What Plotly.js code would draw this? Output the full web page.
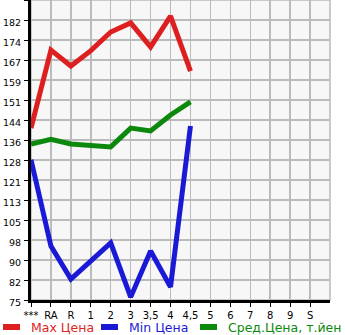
<!DOCTYPE html>
<html><head><meta charset="utf-8">
<script src="https://cdn.plot.ly/plotly-3.0.1.min.js"></script>
<style>html,body{margin:0;padding:0;background:#fff}#c{width:345px;height:335px}</style>
</head><body><div id="c"></div>
<script>
const categories = ["***","RA","R","1","2","3","3,5","4","4,5","5","6","7","8","9","S"];
const maxPrice = [140.7,170.5,164.4,170.3,177.4,180.9,171.7,183.5,162.5];
const minPrice = [128.6,95.6,83.0,89.6,96.8,76.1,93.7,80.0,141.5];
const avgPrice = [134.6,136.4,134.6,134.2,133.5,140.7,139.6,145.7,150.7];
const yTickLabels = ["75","82","90","98","105","113","121","128","136","144","151","159","167","174","182"];
const seriesNames = ["Max Цена","Min Цена","Сред.Цена, т.йен"];
const colors = ["#dd1f1f","#1a1ad6","#0c880c"];

const yMin = 75, yStep = (182-75)/14;
const tickvals = yTickLabels.map((_,i)=>yMin+i*yStep);
tickvals.push(yMin+15*yStep);
const ticktext = yTickLabels.concat([""]);

const mk = (vals,i)=>({x:categories.slice(0,vals.length),y:vals,type:'scatter',mode:'lines',
  name:seriesNames[i],line:{color:colors[i],width:5},showlegend:false,hoverinfo:'skip'});
const data=[mk(maxPrice,0),mk(minPrice,1),mk(avgPrice,2)];

const font={family:'DejaVu Sans, sans-serif',size:10,color:'#000'};
const legX=[0,98,197];
const shapes=[{type:'rect',xref:'paper',yref:'paper',x0:0,x1:1,y0:0,y1:1,line:{color:'#bbbbbb',width:1.5},layer:'below'}];
const annotations=[];
seriesNames.forEach((n,i)=>{
  shapes.push({type:'line',xref:'paper',yref:'paper',x0:(legX[i]+3-31)/299,x1:(legX[i]+20-31)/299,y0:-27/300,y1:-27/300,
    line:{color:colors[i],width:6}});
  annotations.push({xref:'paper',yref:'paper',x:(legX[i]+29-31)/299,y:-27/300,xanchor:'left',yanchor:'middle',
    text:n,showarrow:false,font:{family:'DejaVu Sans, sans-serif',size:12.5,color:colors[i]}});
});

const layout={
  width:345,height:335,margin:{l:31,r:15,t:0,b:35},
  paper_bgcolor:'#ffffff',plot_bgcolor:'#f7f7f7',
  font:font,showlegend:false,
  xaxis:{type:'category',categoryorder:'array',categoryarray:categories,range:[0,15],
    showgrid:true,gridcolor:'#bbbbbb',gridwidth:1.5,showline:true,linecolor:'#000',linewidth:3,
    ticks:'outside',ticklen:4,tickcolor:'#000',tickfont:font,zeroline:false,fixedrange:true},
  yaxis:{range:[yMin,yMin+15*yStep],tickmode:'array',tickvals:tickvals,ticktext:ticktext,
    showgrid:true,gridcolor:'#bbbbbb',gridwidth:1.5,showline:true,linecolor:'#000',linewidth:3,
    ticks:'outside',ticklen:4,tickcolor:'#000',tickfont:{family:'DejaVu Sans, sans-serif',size:9.5,color:'#000'},
    ticklabelshift:3,ticklabelstandoff:1,zeroline:false,fixedrange:true},
  shapes:shapes,annotations:annotations
};
Plotly.newPlot('c',data,layout,{displayModeBar:false,staticPlot:true});
</script></body></html>
